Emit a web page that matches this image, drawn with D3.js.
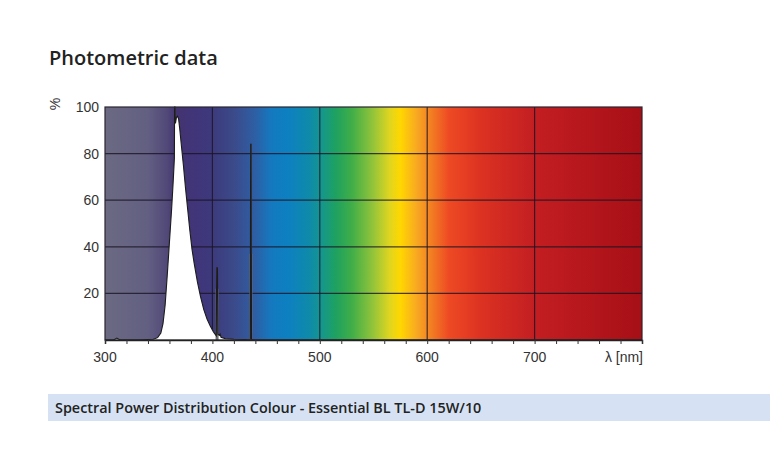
<!DOCTYPE html>
<html>
<head>
<meta charset="utf-8">
<script src="https://cdn.jsdelivr.net/npm/d3@7"></script>
<style>
  body { margin: 0; background: #fff; }
  svg { display: block; }
</style>
</head>
<body>
<div id="chart"></div>
<script>
// spectrum (wavelength nm, relative power %)
let wavelengths = [300, 308, 311, 314, 330, 345, 349, 352, 354, 356, 358, 360, 362, 363.5, 364.6, 364.8, 365.2, 365.6, 366.5, 367.5, 368.5, 369.5, 371, 373, 375, 377, 379, 381, 383, 386, 389, 392, 395, 398, 401, 403.6, 404.0, 404.7, 405.1, 406.5, 407.2, 408, 412, 420, 430, 435.3, 435.6, 436.1, 436.4, 437.5, 445, 500, 600, 700, 800];
let power = [0, 0, 0.8, 0, 0, 0.3, 1, 3, 7, 15, 28, 42, 56, 68, 78, 100, 100, 93, 95.5, 96, 95, 91, 84, 75, 65, 56, 47, 39, 33, 25, 18.5, 13, 9, 6, 3.5, 1.8, 31, 31, 2.5, 2, 2.5, 1.2, 0.6, 0.3, 0.2, 0.3, 84, 84, 0.3, 0.1, 0, 0, 0, 0, 0];

// mercury lines: grey base band under each spike
let hgLinesNm = [404.35, 435.85];
let hgBase = [22, 37];

// background spectrum colours
let bandNm = [300, 340, 358, 366, 385, 400, 420, 440, 455, 470, 490, 500, 515, 530, 550, 565, 575, 590, 605, 620, 650, 700, 800];
let bandColors = ['#6b6a82', '#625f82', '#514878', '#433470', '#41357a', '#3c3a7c', '#3b4a8a', '#2e5fa5', '#1479bf', '#0d80c2', '#0f8aa9', '#139593', '#1fa160', '#40ae48', '#95c43a', '#e0d520', '#ffd700', '#f8a922', '#f27a22', '#ee4a24', '#dc3222', '#c31e22', '#a60f16'];

let xTicks = [300, 400, 500, 600, 700];
let yTicks = [20, 40, 60, 80, 100];
let gridX = [400, 500, 600, 700];
let gridY = [20, 40, 60, 80];

let title = 'Photometric data';
let caption = 'Spectral Power Distribution Colour - Essential BL TL-D 15W/10';

let width = 770, height = 460;
let plot = { left: 105, right: 642, top: 107, bottom: 340 };

let svg = d3.select('#chart').append('svg')
    .attr('width', width)
    .attr('height', height);

let x = d3.scaleLinear().domain([300, 800]).range([plot.left, plot.right]);
let y = d3.scaleLinear().domain([0, 100]).range([plot.bottom, plot.top]);

// title
svg.append('text')
    .attr('x', 49)
    .attr('y', 65)
    .style('font-family', '"Open Sans", sans-serif')
    .style('font-weight', 600)
    .style('font-size', '20px')
    .style('fill', '#222')
    .text(title);

// gradient background
let grad = svg.append('defs').append('linearGradient')
    .attr('id', 'spec')
    .attr('gradientUnits', 'userSpaceOnUse')
    .attr('x1', plot.left).attr('x2', plot.right)
    .attr('y1', 0).attr('y2', 0);
grad.selectAll('stop')
    .data(bandNm)
    .enter()
    .append('stop')
        .attr('offset', function(d) { return (x(d) - plot.left) / (plot.right - plot.left); })
        .attr('stop-color', function(d, i) { return bandColors[i]; });

svg.append('rect')
    .attr('x', plot.left)
    .attr('y', plot.top)
    .attr('width', plot.right - plot.left)
    .attr('height', plot.bottom - plot.top)
    .attr('fill', 'url(#spec)');

// grid
let grid = svg.append('g')
    .attr('stroke', '#1a1424')
    .attr('stroke-opacity', 0.8)
    .attr('stroke-width', 1.2);
grid.selectAll('.gx')
    .data(gridX)
    .enter()
    .append('line')
        .attr('x1', function(d) { return x(d); })
        .attr('x2', function(d) { return x(d); })
        .attr('y1', plot.top)
        .attr('y2', plot.bottom);
grid.selectAll('.gy')
    .data(gridY)
    .enter()
    .append('line')
        .attr('x1', plot.left)
        .attr('x2', plot.right)
        .attr('y1', function(d) { return y(d); })
        .attr('y2', function(d) { return y(d); });

// spectrum curve
let data = wavelengths.map(function(d, i) { return { nm: d, p: power[i] }; });
let area = d3.area()
    .x(function(d) { return x(d.nm); })
    .y0(y(0))
    .y1(function(d) { return y(d.p); });
let line = d3.line()
    .x(function(d) { return x(d.nm); })
    .y(function(d) { return y(d.p); });

svg.append('path')
    .datum(data)
    .attr('d', area)
    .attr('fill', '#fff');

svg.append('g')
    .selectAll('rect')
    .data(hgLinesNm)
    .enter()
    .append('rect')
        .attr('x', function(d) { return x(d) - 1.5; })
        .attr('width', 3)
        .attr('y', function(d, i) { return y(hgBase[i]); })
        .attr('height', function(d, i) { return y(0) - y(hgBase[i]); })
        .attr('fill', '#6e6e70');

svg.append('path')
    .datum(data)
    .attr('d', line)
    .attr('fill', 'none')
    .attr('stroke', '#1c1c1c')
    .attr('stroke-width', 1.1);

// frame
svg.append('rect')
    .attr('x', plot.left)
    .attr('y', plot.top)
    .attr('width', plot.right - plot.left)
    .attr('height', plot.bottom - plot.top)
    .attr('fill', 'none')
    .attr('stroke', '#2a2630')
    .attr('stroke-width', 1.2);

// x axis
let xAxis = d3.axisBottom(x)
    .tickValues(d3.range(300, 801, 20))
    .tickSize(4)
    .tickFormat('');
let xAxisGroup = svg.append('g')
    .attr('transform', 'translate(0,' + plot.bottom + ')')
    .call(xAxis);
xAxisGroup.select('.domain').attr('stroke', '#222').attr('stroke-width', 1.5);
xAxisGroup.selectAll('.tick line').attr('stroke', '#333');

svg.append('g')
    .selectAll('text')
    .data(xTicks)
    .enter()
    .append('text')
        .attr('x', function(d) { return x(d); })
        .attr('y', 362)
        .attr('text-anchor', 'middle')
        .style('font-family', '"Liberation Sans", Arial, sans-serif')
        .style('font-size', '14px')
        .style('fill', '#333')
        .text(function(d) { return d; });

svg.append('text')
    .attr('x', plot.right + 1)
    .attr('y', 362)
    .attr('text-anchor', 'end')
    .style('font-family', '"Liberation Sans", Arial, sans-serif')
    .style('font-size', '14px')
    .style('fill', '#333')
    .text('λ [nm]');

// y labels
svg.append('g')
    .selectAll('text')
    .data(yTicks)
    .enter()
    .append('text')
        .attr('x', 99)
        .attr('y', function(d) { return y(d) + 5; })
        .attr('text-anchor', 'end')
        .style('font-family', '"Liberation Sans", Arial, sans-serif')
        .style('font-size', '14px')
        .style('fill', '#333')
        .text(function(d) { return d; });

svg.append('text')
    .attr('transform', 'translate(60,104) rotate(-90)')
    .attr('text-anchor', 'middle')
    .style('font-family', '"Liberation Sans", Arial, sans-serif')
    .style('font-size', '14px')
    .style('fill', '#333')
    .text('%');

// caption bar
svg.append('rect')
    .attr('x', 48)
    .attr('y', 394)
    .attr('width', width - 48)
    .attr('height', 27)
    .attr('fill', '#d6e2f3');
svg.append('text')
    .attr('x', 55)
    .attr('y', 413)
    .style('font-family', '"Open Sans", sans-serif')
    .style('font-weight', 600)
    .style('font-size', '14.4px')
    .style('fill', '#222')
    .text(caption);
</script>
</body>
</html>
